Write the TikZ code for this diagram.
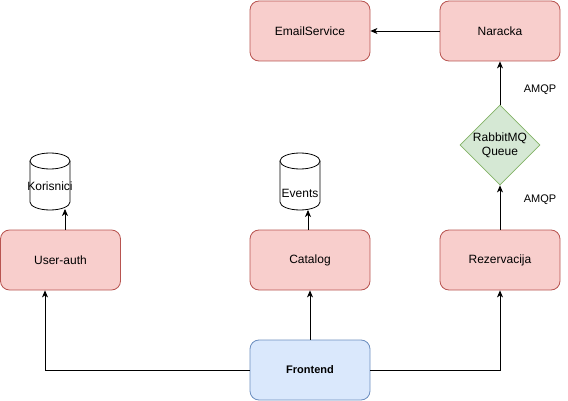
\documentclass[tikz,border=0pt]{standalone}
\usepackage{fontspec}
\setmainfont{Liberation Sans}
\usetikzlibrary{shapes.geometric,arrows.meta}
\definecolor{redfill}{HTML}{F8CECC}
\definecolor{redline}{HTML}{B85450}
\definecolor{bluefill}{HTML}{DAE8FC}
\definecolor{blueline}{HTML}{6C8EBF}
\definecolor{greenfill}{HTML}{D5E8D4}
\definecolor{greenline}{HTML}{82B366}
\tikzset{
  svcbox/.style={draw=redline, fill=redfill, rounded corners=9pt, minimum width=120pt, minimum height=60pt, inner sep=0pt, font=\fontsize{12}{14}\selectfont, line width=0.8pt},
  frontbox/.style={draw=blueline, fill=bluefill, rounded corners=9pt, minimum width=120pt, minimum height=60pt, inner sep=0pt, font=\fontsize{11}{13}\selectfont\bfseries, line width=0.8pt},
  queue/.style={draw=greenline, fill=greenfill, diamond, minimum width=80pt, minimum height=80pt, inner sep=0pt, align=center, font=\fontsize{12}{14}\selectfont, line width=0.8pt},
  lbl/.style={font=\fontsize{11}{13}\selectfont, inner sep=0pt},
  dbtext/.style={font=\fontsize{12}{14}\selectfont, inner sep=0pt},
  conn/.style={line width=0.8pt, -{Stealth[length=7pt,width=6pt,inset=2pt]}},
}
\newcommand\dbcyl[3]{% cx, top, bottom
  \pgfmathsetmacro\cxl{#1-20}\pgfmathsetmacro\cxr{#1+20}%
  \pgfmathsetmacro\ty{#2+8}\pgfmathsetmacro\by{#3-8}%
  \pgfmathsetmacro\byc{#3-8+4.42}%
  \pgfmathsetmacro\cxa{#1-11.05}\pgfmathsetmacro\cxb{#1+11.05}%
  \draw[line width=0.8pt, fill=white] (\cxl,\ty) -- (\cxl,\by) .. controls (\cxl,\byc) and (\cxa,#3) .. (#1,#3) .. controls (\cxb,#3) and (\cxr,\byc) .. (\cxr,\by) -- (\cxr,\ty);
  \draw[line width=0.8pt, fill=white] (#1,\ty) ellipse [x radius=20pt, y radius=8pt];
}
\begin{document}
\begin{tikzpicture}[x=1pt,y=-1pt]
\useasboundingbox (0,0) rectangle (568,401);
\node[svcbox] (email) at (310,31) {EmailService};
\node[svcbox] (naracka) at (500,31) {Naracka};
\node[svcbox] (user) at (60.5,260) {User-auth};
\node[svcbox] (catalog) at (310,260) {Catalog};
\node[svcbox] (rez) at (500,260) {Rezervacija};
\node[frontbox] (front) at (310,370) {Frontend};
\node[queue] (rabbit) at (500,145) {RabbitMQ\\Queue};
\dbcyl{50}{153}{210}
\dbcyl{300}{153}{210}
\node[dbtext] (kor) at (50,186) {Korisnici};
\node[dbtext] (events) at (300,193) {Events};
\coordinate (korb) at (65,209);
\coordinate (evb) at (308,210);
\node[lbl] (l1) at (540,90) {AMQP};
\node[lbl] (l2) at (540,200) {AMQP};
\draw[conn] (user.north -| korb) -- (korb);
\draw[conn] (catalog.north -| evb) -- (evb);
\draw[conn] (front.west) -| (45,0 |- user.south) ;
\draw[conn] (front.north) -- (catalog.south);
\draw[conn] (front.east) -| (rez.south);
\draw[conn] (rez.north) -- (rabbit.south);
\draw[conn] (rabbit.north) -- (naracka.south);
\draw[conn] (naracka.west) -- (email.east);
\end{tikzpicture}
\end{document}
